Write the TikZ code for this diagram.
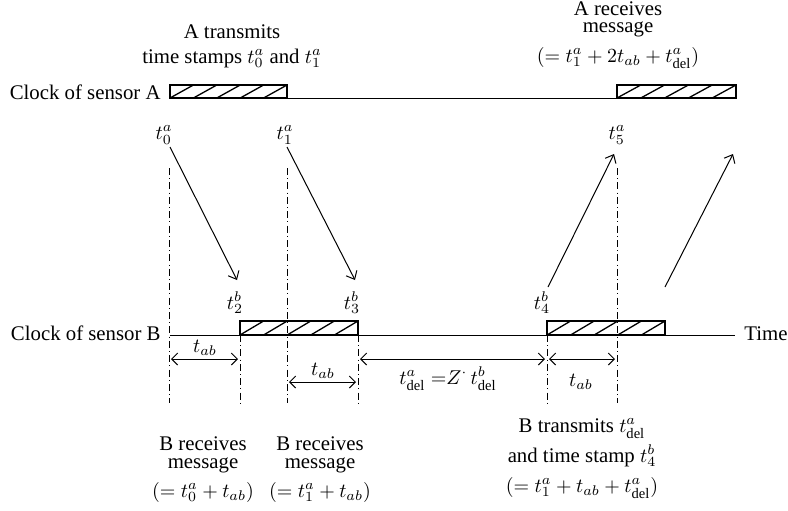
\documentclass[tikz,border=0pt]{standalone}
\usepackage{fontspec}
\setmainfont{Liberation Serif}
\usetikzlibrary{arrows.meta}
\newcommand\hatchedbox[4]{% x0, x1, ytop, ybot
  \draw[hbox] (#1,#3) rectangle (#2,#4);
  \foreach \k in {0,...,4}{
    \draw[hbox] ({#1+(#2-#1)*\k/5},#4) -- ({#1+(#2-#1)*(\k+1)/5},#3);
  }}
\begin{document}
\begin{tikzpicture}[x=0.5pt,y=-0.5pt,
  font=\fontsize{10.4}{11}\selectfont,
  clk/.style={line width=0.5pt},
  hbox/.style={line width=0.65pt},
  ddot/.style={line width=0.5pt, dash pattern=on 3.5pt off 1.6pt on 0.5pt off 1.6pt},
  msg/.style={line width=0.5pt, -{Straight Barb[length=3.5pt,width=6pt]}},
  dim/.style={line width=0.5pt, {Straight Barb[length=3pt,width=6pt]}-{Straight Barb[length=3pt,width=6pt]}},
  txt/.style={inner sep=0pt, anchor=base},
  lbl/.style={inner sep=0pt}]
\useasboundingbox (0,0) rectangle (788,510);

% clock lines
\coordinate (As) at (170,98);
\coordinate (Ae) at (736,98);
\coordinate (Bs) at (170,335);
\coordinate (Be) at (735,335);
\draw[clk] (As) -- (Ae);
\draw[clk] (Bs) -- (Be);
\hatchedbox{170}{287}{85}{98}
\hatchedbox{617}{736}{85}{98}
\hatchedbox{240}{358}{321}{335}
\hatchedbox{547}{665}{321}{335}

\node[txt, anchor=base east] (clkA) at (161,99) {Clock of sensor A};
\node[txt, anchor=base east] (clkB) at (161,340) {Clock of sensor B};
\node[txt, anchor=base west] (time) at (744,340) {Time};

% dash-dot verticals
\coordinate (v1t) at (169,168); \coordinate (v1b) at (169,403);
\coordinate (v2t) at (240,335); \coordinate (v2b) at (240,403);
\coordinate (v3t) at (287,168); \coordinate (v3b) at (287,403);
\coordinate (v4t) at (358,335); \coordinate (v4b) at (358,403);
\coordinate (v5t) at (547,335); \coordinate (v5b) at (547,403);
\coordinate (v6t) at (617,168); \coordinate (v6b) at (617,403);
\foreach \i in {1,...,6}{\draw[ddot] (v\i t) -- (v\i b);}

% time stamp labels
\node[lbl] (t0a) at (164,135) {$t_0^a$};
\node[lbl] (t1a) at (285,135) {$t_1^a$};
\node[lbl] (t5a) at (617,135) {$t_5^a$};
\node[lbl] (t2b) at (235,303) {$t_2^b$};
\node[lbl] (t3b) at (352,303) {$t_3^b$};
\node[lbl] (t4b) at (542,303) {$t_4^b$};

% messages
\coordinate (m1s) at (170,147); \coordinate (m1e) at (237,280);
\coordinate (m2s) at (287,147); \coordinate (m2e) at (355,280);
\coordinate (m3s) at (548,287); \coordinate (m3e) at (614,154);
\coordinate (m4s) at (665,287); \coordinate (m4e) at (733,154);
\draw[msg] (m1s) -- (m1e);
\draw[msg] (m2s) -- (m2e);
\draw[msg] (m3s) -- (m3e);
\draw[msg] (m4s) -- (m4e);

% dimension arrows
\coordinate (d1s) at (171,359); \coordinate (d1e) at (238,359);
\coordinate (d2s) at (289,382); \coordinate (d2e) at (356,382);
\coordinate (d3s) at (360,359); \coordinate (d3e) at (545,359);
\coordinate (d4s) at (549,359); \coordinate (d4e) at (615,359);
\draw[dim] (d1s) -- (d1e);
\draw[dim] (d2s) -- (d2e);
\draw[dim] (d3s) -- (d3e);
\draw[dim] (d4s) -- (d4e);
\node[txt] (tab1) at (205,352) {$t_{ab}$};
\node[txt] (tab2) at (323,375) {$t_{ab}$};
\node[txt] (tab3) at (581,386) {$t_{ab}$};
\node[txt] (tdel) at (448,384) {$t^a_{\mathrm{del}}\;{=}Z^{\cdot}\,t^b_{\mathrm{del}}$};

% top texts
\node[txt] (at1) at (232,38) {A transmits};
\node[txt] (at2) at (232,63) {time stamps $t_0^a$ and $t_1^a$};
\node[txt] (ar1) at (618,15) {A receives};
\node[txt] (ar2) at (618,32) {message};
\node[txt] (ar3) at (618,62) {$(= t_1^a+2t_{ab}+t^a_{\mathrm{del}})$};

% bottom texts
\node[txt] (br1) at (203,450) {B receives};
\node[txt] (br2) at (203,468) {message};
\node[txt] (br3) at (203,497) {$(= t_0^a+t_{ab})$};
\node[txt] (bs1) at (320,450) {B receives};
\node[txt] (bs2) at (320,468) {message};
\node[txt] (bs3) at (320,497) {$(= t_1^a+t_{ab})$};
\node[txt] (bt1) at (582,432) {B transmits $t^a_{\mathrm{del}}$};
\node[txt] (bt2) at (582,462) {and time stamp $t_4^b$};
\node[txt] (bt3) at (582,492) {$(= t_1^a+t_{ab}+t^a_{\mathrm{del}})$};
\end{tikzpicture}
\end{document}
